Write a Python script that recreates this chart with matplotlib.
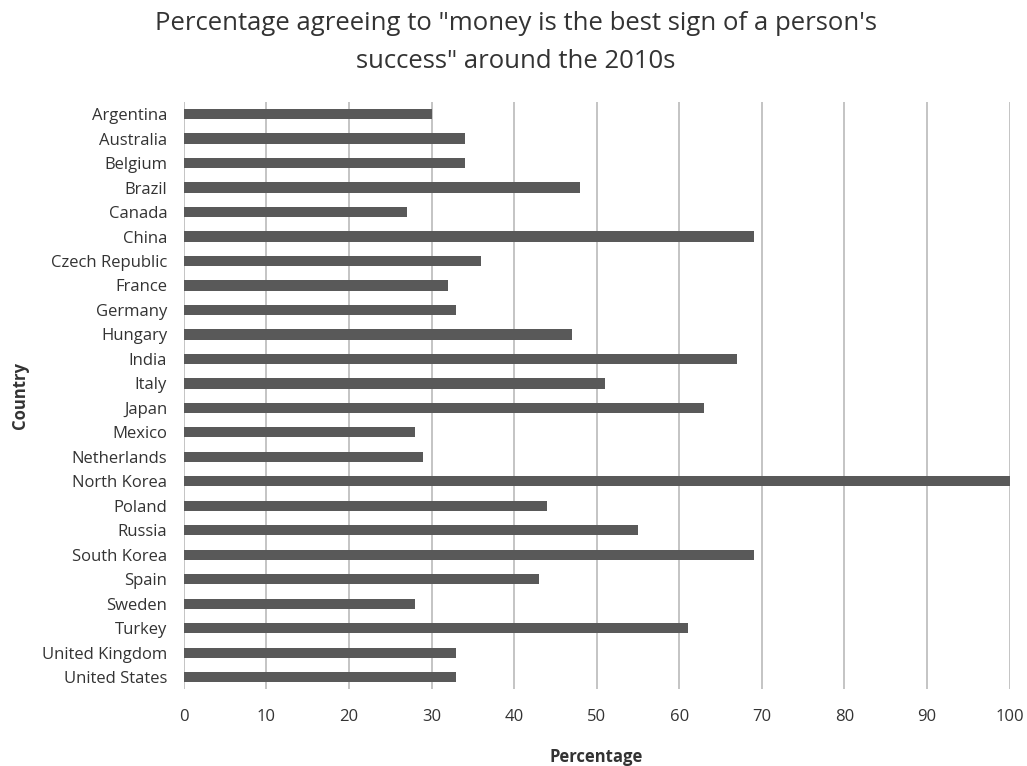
import numpy as np
import matplotlib.pyplot as plt

plt.rcParams["font.family"] = ["Open Sans", "DejaVu Sans"]

countries = [
    "Argentina", "Australia", "Belgium", "Brazil", "Canada", "China",
    "Czech Republic", "France", "Germany", "Hungary", "India", "Italy",
    "Japan", "Mexico", "Netherlands", "North Korea", "Poland", "Russia",
    "South Korea", "Spain", "Sweden", "Turkey", "United Kingdom", "United States",
]
percentages = [30, 34, 34, 48, 27, 69, 36, 32, 33, 47, 67, 51,
               63, 28, 29, 100, 44, 55, 69, 43, 28, 61, 33, 33]
xticks = np.arange(0, 101, 10)

TEXT = "#333333"
GRID = "#bfbfbf"
BAR = "#595959"

fig = plt.figure(figsize=(10.27, 7.66), dpi=100)
ax = fig.add_axes([0.179, 0.100, 0.804, 0.767])

y = np.arange(len(countries))
ax.barh(y, percentages, height=0.42, color=BAR, zorder=3)

ax.set_xlim(0, 100)
ax.set_ylim(len(countries) - 0.5, -0.5)
ax.set_xticks(xticks)
ax.set_yticks(y)
ax.set_yticklabels(countries)

ax.grid(axis="x", color=GRID, linewidth=1.3, zorder=0)
for s in ax.spines.values():
    s.set_visible(False)
ax.tick_params(axis="both", length=0, labelsize=12, colors=TEXT)
ax.tick_params(axis="x", pad=14)
ax.tick_params(axis="y", pad=12)

ax.set_xlabel("Percentage", fontsize=12, fontweight="bold", color=TEXT, va="center")
ax.xaxis.set_label_coords(0.5, -0.115)
ax.set_ylabel("Country", fontsize=12, fontweight="bold", color=TEXT, va="center")
ax.yaxis.set_label_coords(-0.198, 0.5)

fig.suptitle("Percentage agreeing to \"money is the best sign of a person's\n"
             "success\" around the 2010s",
             fontsize=18.5, color=TEXT, y=0.985, x=0.502, linespacing=1.65)

fig.savefig("out.png", dpi=100)
